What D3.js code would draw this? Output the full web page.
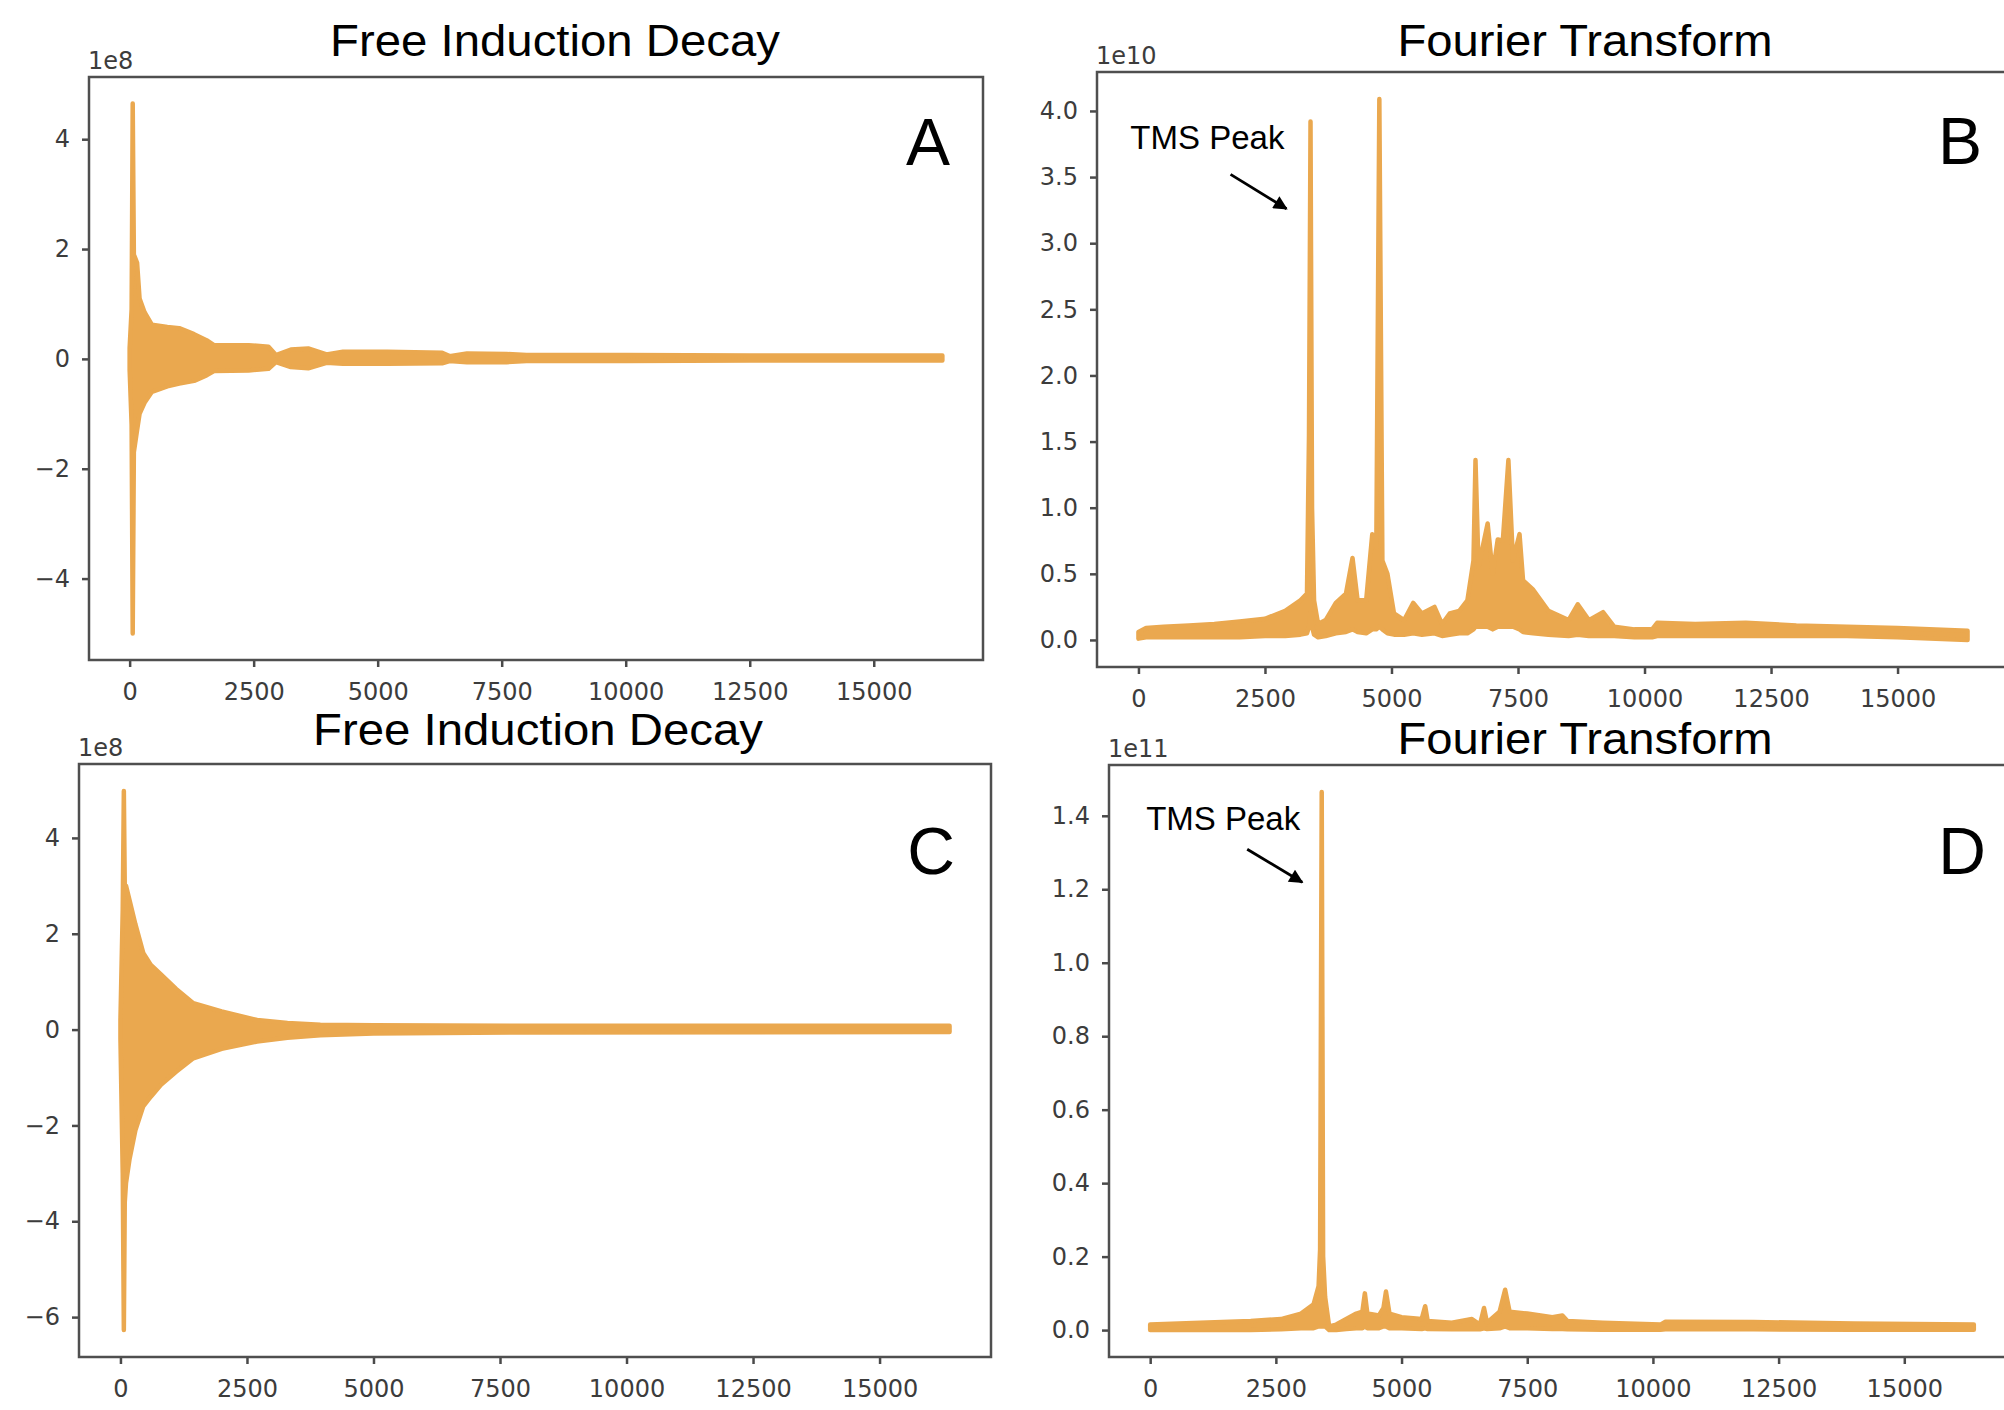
<!DOCTYPE html>
<html>
<head>
<meta charset="utf-8">
<script src="https://cdn.jsdelivr.net/npm/d3@7"></script>
<style>
  body { margin: 0; background: #fff; }
  .tick text { font-family: "DejaVu Sans", sans-serif; font-size: 24px; fill: #3c3c3c; }
  .tick line { stroke: #4a4a4a; stroke-width: 2.5; }
  .title { font-family: "Liberation Sans", Arial, sans-serif; font-size: 45px; fill: #000; }
  .letter { font-family: "Liberation Sans", Arial, sans-serif; font-size: 66px; fill: #000; }
  .note { font-family: "Liberation Sans", Arial, sans-serif; font-size: 33px; fill: #000; }
  .offset { font-family: "DejaVu Sans", sans-serif; font-size: 24px; fill: #3c3c3c; }
</style>
</head>
<body>
<script>
// Envelopes: [sample index, upper, lower]
// FID A, units 1e8
var fidA = [
  [0, 0.2, -0.2], [40, 0.9, -1.2], [62, 4.65, -5.0], [85, 1.9, -1.7],
  [150, 1.75, -1.3], [200, 1.1, -1.0], [300, 0.85, -0.8], [450, 0.62, -0.6],
  [760, 0.58, -0.5], [1000, 0.56, -0.45], [1300, 0.45, -0.4], [1550, 0.34, -0.3],
  [1700, 0.25, -0.22], [2400, 0.25, -0.21], [2800, 0.22, -0.18], [2950, 0.07, -0.06],
  [3250, 0.17, -0.15], [3600, 0.19, -0.17], [3970, 0.08, -0.07], [4300, 0.13, -0.09],
  [5200, 0.13, -0.09], [6300, 0.11, -0.08], [6450, 0.05, -0.04], [6800, 0.1, -0.06],
  [7600, 0.09, -0.06], [8000, 0.07, -0.04], [10000, 0.07, -0.04], [12500, 0.06, -0.03],
  [16383, 0.06, -0.03]
];
// FT B, units 1e10
var ftB = [
  [0, 0.06, 0.01], [150, 0.09, 0.02], [500, 0.1, 0.02], [1000, 0.11, 0.02],
  [1500, 0.12, 0.02], [2000, 0.14, 0.02], [2500, 0.16, 0.03], [2900, 0.22, 0.03],
  [3200, 0.3, 0.04], [3330, 0.35, 0.05], [3370, 1.55, 0.1], [3400, 3.92, 0.2],
  [3430, 1.0, 0.1], [3470, 0.3, 0.04], [3550, 0.12, 0.02], [3700, 0.15, 0.03],
  [3900, 0.28, 0.05], [4100, 0.35, 0.06], [4230, 0.62, 0.08], [4330, 0.3, 0.06],
  [4500, 0.3, 0.05], [4620, 0.8, 0.08], [4700, 0.7, 0.08], [4760, 4.09, 0.1],
  [4820, 0.6, 0.08], [4920, 0.5, 0.05], [5050, 0.2, 0.04], [5250, 0.15, 0.04],
  [5430, 0.28, 0.05], [5600, 0.2, 0.04], [5850, 0.25, 0.05], [6000, 0.12, 0.03],
  [6150, 0.2, 0.04], [6340, 0.22, 0.05], [6500, 0.3, 0.05], [6620, 0.6, 0.08],
  [6660, 1.36, 0.1], [6720, 0.55, 0.1], [6800, 0.7, 0.1], [6900, 0.88, 0.1],
  [7000, 0.5, 0.08], [7100, 0.76, 0.1], [7200, 0.75, 0.1], [7310, 1.36, 0.1],
  [7400, 0.6, 0.1], [7530, 0.8, 0.08], [7600, 0.45, 0.06], [7800, 0.38, 0.05],
  [8100, 0.22, 0.04], [8500, 0.15, 0.03], [8680, 0.27, 0.04], [8900, 0.15, 0.03],
  [9180, 0.21, 0.03], [9400, 0.1, 0.03], [9800, 0.08, 0.02], [10150, 0.08, 0.02],
  [10250, 0.13, 0.03], [11000, 0.12, 0.03], [12000, 0.13, 0.03], [13000, 0.11, 0.03],
  [14000, 0.1, 0.03], [15000, 0.09, 0.02], [16383, 0.07, 0.0]
];
// FID C, units 1e8
var fidC = [
  [0, 0.2, -0.2], [45, 2.5, -3.0], [67, 4.98, -6.27], [85, 3.0, -3.6],
  [110, 3.0, -3.2], [180, 2.7, -2.7], [295, 2.2, -2.1], [450, 1.6, -1.6],
  [600, 1.35, -1.4], [800, 1.15, -1.15], [1100, 0.85, -0.88], [1440, 0.55, -0.6],
  [2000, 0.38, -0.4], [2700, 0.2, -0.25], [3300, 0.14, -0.17], [3950, 0.1, -0.12],
  [5000, 0.09, -0.08], [8000, 0.08, -0.06], [16383, 0.08, -0.05]
];
// FT D, units 1e11
var ftD = [
  [0, 0.015, 0.0], [1000, 0.02, 0.0], [2000, 0.025, 0.0], [2600, 0.03, 0.002],
  [3000, 0.045, 0.005], [3250, 0.07, 0.005], [3350, 0.12, 0.01], [3380, 0.22, 0.01],
  [3412, 1.465, 0.01], [3440, 0.2, 0.01], [3480, 0.09, 0.01], [3560, 0.01, 0.0],
  [3700, 0.015, 0.0], [3900, 0.03, 0.003], [4100, 0.045, 0.005], [4220, 0.05, 0.005],
  [4270, 0.1, 0.01], [4320, 0.045, 0.005], [4550, 0.04, 0.005], [4640, 0.06, 0.01],
  [4690, 0.105, 0.01], [4760, 0.045, 0.005], [5000, 0.035, 0.005], [5400, 0.03, 0.003],
  [5470, 0.065, 0.005], [5520, 0.025, 0.003], [6000, 0.02, 0.002], [6400, 0.03, 0.003],
  [6560, 0.015, 0.002], [6640, 0.06, 0.005], [6700, 0.02, 0.003], [6950, 0.05, 0.005],
  [7060, 0.11, 0.01], [7150, 0.05, 0.005], [7500, 0.045, 0.005], [8000, 0.035, 0.003],
  [8200, 0.04, 0.003], [8300, 0.025, 0.002], [9000, 0.02, 0.001], [10150, 0.015, 0.001],
  [10250, 0.023, 0.002], [12000, 0.022, 0.002], [14000, 0.018, 0.001], [16383, 0.015, 0.001]
];

var nPoints = 16384;
var xTicks = [0, 2500, 5000, 7500, 10000, 12500, 15000];
var yTicksA = [-4, -2, 0, 2, 4];
var yTicksB = [0, 0.5, 1.0, 1.5, 2.0, 2.5, 3.0, 3.5, 4.0];
var yTicksC = [-6, -4, -2, 0, 2, 4];
var yTicksD = [0, 0.2, 0.4, 0.6, 0.8, 1.0, 1.2, 1.4];

var titles = ["Free Induction Decay", "Fourier Transform", "Free Induction Decay", "Fourier Transform"];
var letters = ["A", "B", "C", "D"];
var offsets = ["1e8", "1e10", "1e8", "1e11"];

// TMS annotations in data coordinates: text anchor, arrow tail, arrow head
var noteB = {text: [-160, 3.71], tail: [1820, 3.52], head: [2925, 3.26]};
var noteD = {text: [-80, 1.361], tail: [1930, 1.309], head: [3024, 1.219]};

var color = "#eaa84f";

// layout: frame box, title centre/baseline/width, letter centre/baseline
var panels = [
  {box: [89, 77, 983, 660], data: fidA, yt: yTicksA, fmt: "int",
   title: [555, 56, 450], letter: [928, 165]},
  {box: [1097, 72, 2009, 667], data: ftB, yt: yTicksB, fmt: "dec", note: noteB,
   title: [1585, 56, 375], letter: [1960, 164]},
  {box: [79, 764, 991, 1357], data: fidC, yt: yTicksC, fmt: "int",
   title: [538, 745, 450], letter: [931, 874]},
  {box: [1109, 765, 2015, 1357], data: ftD, yt: yTicksD, fmt: "dec", note: noteD,
   title: [1585, 754, 375], letter: [1962, 874]}
];

var svg = d3.select("body").append("svg")
  .attr("width", 2004)
  .attr("height", 1410)
  .style("background", "#fff");

var defs = svg.append("defs");
defs.append("marker")
  .attr("id", "arrow")
  .attr("viewBox", "0 0 10 10")
  .attr("refX", 9).attr("refY", 5)
  .attr("markerWidth", 6).attr("markerHeight", 5)
  .attr("markerUnits", "strokeWidth")
  .attr("orient", "auto")
  .append("path")
  .attr("d", "M0,0 L10,5 L0,10 Z")
  .attr("fill", "#000");

function minusFmt(d) {
  return d < 0 ? "\u2212" + Math.abs(d) : String(d);
}

panels.forEach(function(p, i) {
  var x0 = p.box[0], y0 = p.box[1], x1 = p.box[2], y1 = p.box[3];

  // matplotlib style 5% margins
  var xPad = (nPoints - 1) * 0.05;
  var x = d3.scaleLinear().domain([-xPad, nPoints - 1 + xPad]).range([x0, x1]);
  var lo = d3.min(p.data, function(d) { return d[2]; });
  var hi = d3.max(p.data, function(d) { return d[1]; });
  var yPad = (hi - lo) * 0.05;
  var y = d3.scaleLinear().domain([lo - yPad, hi + yPad]).range([y1, y0]);

  var g = svg.append("g");

  defs.append("clipPath").attr("id", "clip" + i)
    .append("rect")
    .attr("x", x0).attr("y", y0)
    .attr("width", x1 - x0).attr("height", y1 - y0);

  var area = d3.area()
    .x(function(d) { return x(d[0]); })
    .y0(function(d) { return y(d[2]); })
    .y1(function(d) { return y(d[1]); });

  g.append("path")
    .datum(p.data)
    .attr("clip-path", "url(#clip" + i + ")")
    .attr("d", area)
    .attr("fill", color)
    .attr("stroke", color)
    .attr("stroke-width", 4.5)
    .attr("stroke-linejoin", "round");

  // axes
  var xAxis = g.append("g")
    .attr("transform", "translate(0," + y1 + ")")
    .call(d3.axisBottom(x).tickValues(xTicks).tickSize(7).tickPadding(16)
      .tickFormat(function(d) { return String(d); }));
  xAxis.select(".domain").remove();

  var yAxis = g.append("g")
    .attr("transform", "translate(" + x0 + ",0)")
    .call(d3.axisLeft(y).tickValues(p.yt).tickSize(7).tickPadding(12)
      .tickFormat(p.fmt === "int" ? minusFmt : d3.format(".1f")));
  yAxis.select(".domain").remove();

  // frame
  g.append("rect")
    .attr("x", x0).attr("y", y0)
    .attr("width", x1 - x0).attr("height", y1 - y0)
    .attr("fill", "none")
    .attr("stroke", "#4f4f4f")
    .attr("stroke-width", 2.5);

  // offset text (1e8 etc.)
  g.append("text")
    .attr("class", "offset")
    .attr("x", x0 - 1)
    .attr("y", y0 - 8)
    .text(offsets[i]);

  // title
  g.append("text")
    .attr("class", "title")
    .attr("x", p.title[0])
    .attr("y", p.title[1])
    .attr("text-anchor", "middle")
    .attr("textLength", p.title[2])
    .attr("lengthAdjust", "spacingAndGlyphs")
    .text(titles[i]);

  // panel letter
  g.append("text")
    .attr("class", "letter")
    .attr("x", p.letter[0])
    .attr("y", p.letter[1])
    .attr("text-anchor", "middle")
    .text(letters[i]);

  // TMS annotation
  if (p.note) {
    g.append("text")
      .attr("class", "note")
      .attr("x", x(p.note.text[0]))
      .attr("y", y(p.note.text[1]))
      .text("TMS Peak");
    g.append("line")
      .attr("x1", x(p.note.tail[0])).attr("y1", y(p.note.tail[1]))
      .attr("x2", x(p.note.head[0])).attr("y2", y(p.note.head[1]))
      .attr("stroke", "#000")
      .attr("stroke-width", 2.8)
      .attr("marker-end", "url(#arrow)");
  }
});
</script>
</body>
</html>
